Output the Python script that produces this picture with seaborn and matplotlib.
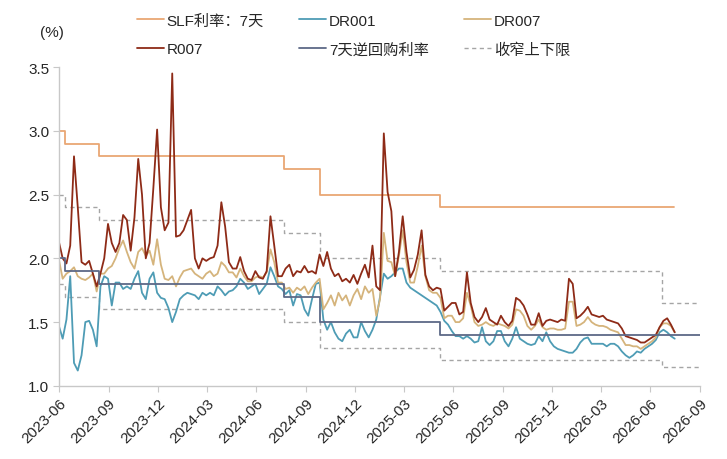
import numpy as np
import pandas as pd
import matplotlib
matplotlib.use("Agg")
import matplotlib.pyplot as plt
import matplotlib.dates as mdates
import seaborn as sns

# ---------------- data ----------------
start_date = "2023-06-01"
n_weeks = 164

r007 = [2.13, 2.00, 1.96, 2.10, 2.80, 2.40, 1.97, 1.95, 1.98, 1.88,
        1.78, 1.88, 2.00, 2.27, 2.12, 2.05, 2.12, 2.34, 2.30, 2.06,
        2.32, 2.78, 2.50, 2.00, 2.12, 2.55, 3.01, 2.40, 2.22, 2.28,
        3.45, 2.17, 2.18, 2.22, 2.30, 2.38, 2.00, 1.92, 2.00, 1.98,
        2.00, 2.01, 2.10, 2.44, 2.25, 1.97, 1.92, 1.92, 2.01, 1.90,
        1.84, 1.83, 1.90, 1.85, 1.84, 1.90, 2.33, 2.10, 1.86, 1.86,
        1.92, 1.95, 1.86, 1.90, 1.89, 1.94, 1.89, 1.90, 1.88, 2.03,
        1.94, 2.05, 1.92, 1.86, 1.88, 1.82, 1.84, 1.81, 1.87, 1.80,
        1.88, 1.95, 1.85, 2.10, 1.78, 1.75, 2.98, 2.52, 2.37, 1.86,
        2.05, 2.33, 2.05, 1.85, 1.91, 2.03, 2.22, 1.87, 1.78, 1.75,
        1.77, 1.76, 1.59, 1.62, 1.65, 1.65, 1.56, 1.58, 1.89, 1.65,
        1.54, 1.50, 1.54, 1.61, 1.52, 1.50, 1.48, 1.55, 1.50, 1.47,
        1.51, 1.69, 1.67, 1.63, 1.56, 1.48, 1.48, 1.57, 1.47, 1.51,
        1.52, 1.51, 1.50, 1.52, 1.51, 1.84, 1.80, 1.53, 1.55, 1.58,
        1.62, 1.56, 1.55, 1.54, 1.55, 1.52, 1.51, 1.50, 1.49, 1.45,
        1.39, 1.38, 1.37, 1.36, 1.34, 1.34, 1.36, 1.38, 1.40, 1.46,
        1.51, 1.53, 1.48, 1.42]

dr007 = [1.99, 1.84, 1.88, 1.90, 1.93, 1.86, 1.84, 1.83, 1.85, 1.88,
         1.74, 1.88, 1.88, 1.92, 1.94, 2.00, 2.08, 2.14, 2.05, 1.97,
         1.92, 2.05, 2.08, 2.02, 2.06, 1.95, 2.15, 1.95, 1.84, 1.83,
         1.86, 1.78, 1.85, 1.90, 1.91, 1.92, 1.88, 1.86, 1.84, 1.88,
         1.90, 1.86, 1.88, 1.97, 1.94, 1.89, 1.89, 1.85, 1.92, 1.86,
         1.82, 1.82, 1.85, 1.86, 1.85, 1.89, 2.07, 1.97, 1.81, 1.81,
         1.76, 1.77, 1.73, 1.77, 1.75, 1.78, 1.72, 1.77, 1.81, 1.84,
         1.60, 1.65, 1.71, 1.63, 1.73, 1.67, 1.71, 1.63, 1.71, 1.76,
         1.68, 1.78, 1.73, 1.76, 1.55, 1.68, 2.20, 1.98, 1.97, 1.86,
         2.02, 2.22, 1.97, 1.81, 1.81, 1.94, 2.10, 1.86, 1.75, 1.73,
         1.73, 1.69, 1.53, 1.55, 1.55, 1.50, 1.50, 1.53, 1.73, 1.63,
         1.50, 1.47, 1.48, 1.50, 1.48, 1.47, 1.49, 1.48, 1.47, 1.45,
         1.48, 1.60, 1.59, 1.55, 1.47, 1.44, 1.47, 1.52, 1.46, 1.44,
         1.45, 1.45, 1.44, 1.44, 1.45, 1.66, 1.66, 1.47, 1.48, 1.50,
         1.54, 1.50, 1.48, 1.47, 1.47, 1.46, 1.44, 1.43, 1.42, 1.37,
         1.32, 1.32, 1.31, 1.31, 1.29, 1.31, 1.33, 1.35, 1.38, 1.46,
         1.49, 1.49, 1.47, 1.42]

dr001 = [1.47, 1.37, 1.52, 1.86, 1.18, 1.12, 1.24, 1.50, 1.51, 1.44,
         1.31, 1.78, 1.86, 1.84, 1.63, 1.81, 1.81, 1.76, 1.78, 1.76,
         1.84, 1.90, 1.73, 1.68, 1.84, 1.89, 1.73, 1.69, 1.68, 1.61,
         1.50, 1.58, 1.68, 1.71, 1.73, 1.72, 1.71, 1.68, 1.73, 1.71,
         1.73, 1.71, 1.78, 1.75, 1.71, 1.74, 1.75, 1.78, 1.84, 1.81,
         1.76, 1.78, 1.80, 1.72, 1.76, 1.80, 1.93, 1.86, 1.78, 1.76,
         1.72, 1.75, 1.63, 1.72, 1.71, 1.60, 1.55, 1.68, 1.80, 1.81,
         1.52, 1.44, 1.50, 1.42, 1.37, 1.35, 1.41, 1.44, 1.38, 1.38,
         1.50, 1.43, 1.38, 1.44, 1.52, 1.70, 1.88, 1.84, 1.86, 1.89,
         1.92, 1.92, 1.81, 1.77, 1.75, 1.73, 1.71, 1.69, 1.67, 1.65,
         1.63, 1.58, 1.51, 1.48, 1.43, 1.39, 1.39, 1.37, 1.39, 1.37,
         1.34, 1.35, 1.46, 1.35, 1.32, 1.35, 1.43, 1.43, 1.35, 1.31,
         1.37, 1.46, 1.37, 1.35, 1.33, 1.32, 1.33, 1.39, 1.35, 1.42,
         1.35, 1.31, 1.29, 1.28, 1.27, 1.26, 1.26, 1.29, 1.34, 1.37,
         1.38, 1.33, 1.33, 1.33, 1.33, 1.31, 1.33, 1.33, 1.31, 1.27,
         1.24, 1.22, 1.24, 1.27, 1.26, 1.29, 1.31, 1.33, 1.36, 1.42,
         1.44, 1.42, 1.39, 1.37]

# policy-rate step series
slf_dates = ["2023-06-01", "2023-06-13", "2023-08-15", "2024-07-22",
             "2024-09-27", "2025-05-08", "2026-07-15"]
slf_7d = [3.0, 2.9, 2.8, 2.7, 2.5, 2.4, 2.4]

step_dates = ["2023-06-01", "2023-06-13", "2023-08-15", "2024-07-22",
              "2024-09-27", "2025-05-08", "2026-06-22", "2026-09-01"]
repo_7d = [2.0, 1.9, 1.8, 1.7, 1.5, 1.4, 1.4, 1.4]
band_upper = [2.5, 2.4, 2.3, 2.2, 2.0, 1.9, 1.65, 1.65]
band_lower = [1.8, 1.7, 1.6, 1.5, 1.3, 1.2, 1.15, 1.15]

labels = ["SLF利率：7天", "DR001", "DR007", "R007", "7天逆回购利率", "收窄上下限"]
colors = {"SLF": "#E9A774", "DR001": "#4E9CB5", "DR007": "#D5B47C",
          "R007": "#8E2B17", "REPO": "#5D6987", "BAND": "#A5A5A5"}

# ---------------- frames ----------------
dates = pd.date_range(start_date, periods=n_weeks, freq="7D")
daily = pd.DataFrame({"date": dates, "R007": r007, "DR007": dr007, "DR001": dr001})
slf_df = pd.DataFrame({"date": pd.to_datetime(slf_dates), "v": slf_7d})
step_df = pd.DataFrame({"date": pd.to_datetime(step_dates), "repo": repo_7d,
                        "up": band_upper, "lo": band_lower})

# ---------------- plot ----------------
sns.set_theme(style="white")
plt.rcParams["font.family"] = ["Liberation Sans", "Noto Sans CJK SC", "DejaVu Sans"]

fig = plt.figure(figsize=(7.27, 4.60), dpi=100)
ax = fig.add_axes([0.081, 0.159, 0.882, 0.693])

lw = 1.3
sns.lineplot(data=slf_df, x="date", y="v", ax=ax, color=colors["SLF"],
             lw=lw, drawstyle="steps-post", label=labels[0])
sns.lineplot(data=step_df, x="date", y="up", ax=ax, color=colors["BAND"], lw=1.0,
             drawstyle="steps-post", linestyle=(0, (3, 2.5)), label=labels[5])
sns.lineplot(data=step_df, x="date", y="lo", ax=ax, color=colors["BAND"], lw=1.0,
             drawstyle="steps-post", linestyle=(0, (3, 2.5)), label="_nolegend_")
sns.lineplot(data=daily, x="date", y="DR001", ax=ax, color=colors["DR001"], lw=lw, label=labels[1])
sns.lineplot(data=daily, x="date", y="DR007", ax=ax, color=colors["DR007"], lw=lw, label=labels[2])
sns.lineplot(data=daily, x="date", y="R007", ax=ax, color=colors["R007"], lw=lw, label=labels[3])
sns.lineplot(data=step_df, x="date", y="repo", ax=ax, color=colors["REPO"], lw=lw,
             drawstyle="steps-post", label=labels[4])

ax.set_xlim(pd.Timestamp("2023-06-01"), pd.Timestamp("2026-09-01"))
ax.set_ylim(1.0, 3.5)
ax.set_yticks([1.0, 1.5, 2.0, 2.5, 3.0, 3.5])
ax.yaxis.set_major_formatter(matplotlib.ticker.FormatStrFormatter("%.1f"))
ax.set_xticks(pd.date_range("2023-06-01", "2026-09-01", freq="3MS"))
ax.xaxis.set_major_formatter(mdates.DateFormatter("%Y-%m"))
ax.set_xlabel("")
ax.set_ylabel("")

for s in ["top", "right"]:
    ax.spines[s].set_visible(False)
for s in ["left", "bottom"]:
    ax.spines[s].set_color("#C8C8C8")
    ax.spines[s].set_linewidth(1.0)
ax.tick_params(axis="both", which="major", direction="out", length=4, width=0.8,
               color="#C8C8C8", labelsize=11, labelcolor="#262626", pad=3,
               bottom=True, left=True)
plt.setp(ax.get_xticklabels(), rotation=45, ha="right", rotation_mode="anchor")

fig.text(0.055, 0.928, "(%)", fontsize=11, color="#262626", ha="left", va="center")

# legend: reorder handles to fill rows
handles, labs = ax.get_legend_handles_labels()
hmap = dict(zip(labs, handles))
order = [labels[0], labels[3], labels[1], labels[4], labels[2], labels[5]]
ax.legend([hmap[l] for l in order], order, ncol=3, frameon=False,
          loc="upper left", bbox_to_anchor=(0.180, 0.982), bbox_transform=fig.transFigure,
          fontsize=11, handlelength=1.75, handletextpad=0.2, columnspacing=2.3,
          labelspacing=0.95, borderaxespad=0.0)
for t in ax.get_legend().get_texts():
    t.set_color("#262626")

fig.savefig("out.png", dpi=100)
